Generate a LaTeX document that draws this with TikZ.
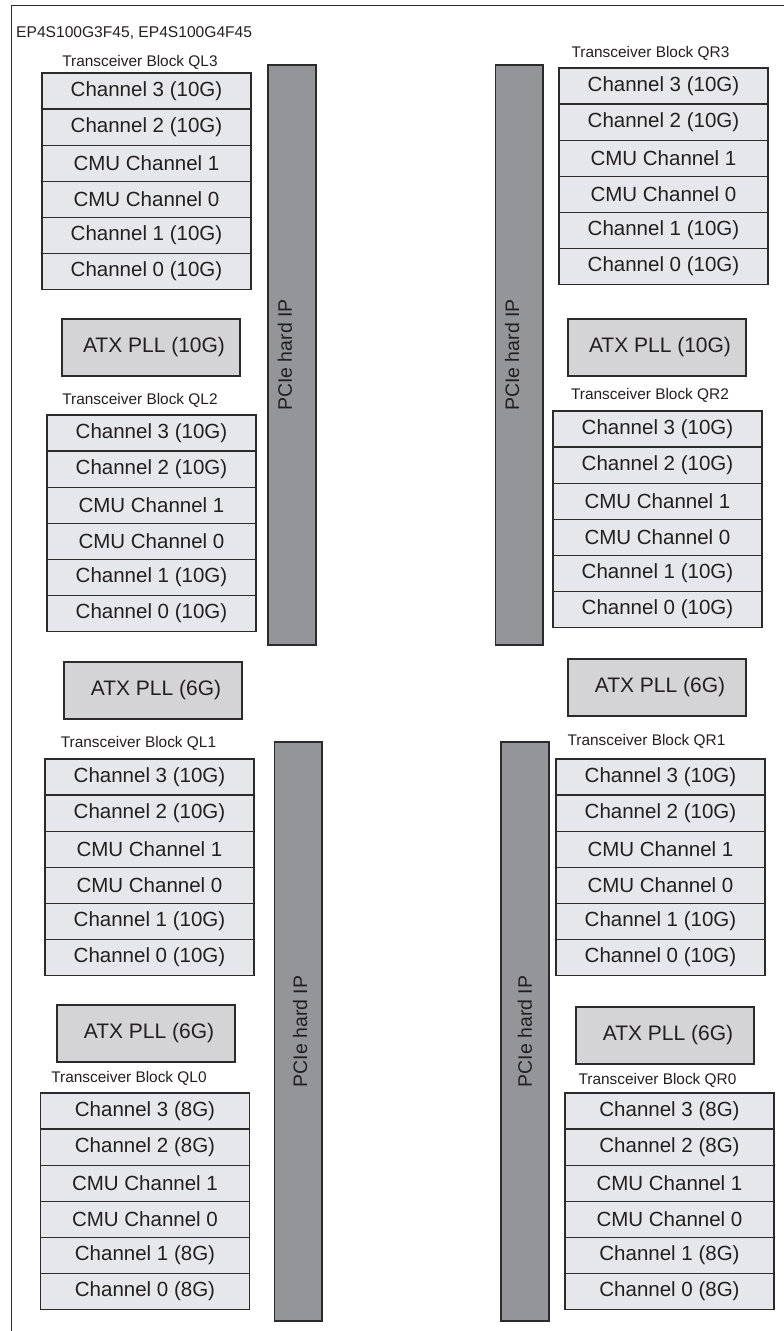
\documentclass[tikz,border=0pt]{standalone}
\usepackage{fontspec}
\setmainfont{Liberation Sans}
\definecolor{chanfill}{RGB}{230,231,235}
\definecolor{atxfill}{RGB}{212,212,214}
\definecolor{barfill}{RGB}{147,149,152}
\definecolor{linec}{RGB}{45,42,43}
\definecolor{txt}{RGB}{35,31,32}
\newcommand\chanfnt{\fontsize{20.5}{24}\selectfont}
\newcommand\atxfnt{\fontsize{21}{25}\selectfont}
\newcommand\lblfnt{\fontsize{15.4}{18}\selectfont}
\newcommand\barfnt{\fontsize{19.5}{24}\selectfont}
\newcommand\ttlfnt{\fontsize{15.6}{18}\selectfont}
\tikzset{
  chan/.style={draw=linec, fill=chanfill, line width=1.3pt, minimum width=209pt,
    minimum height=36.1pt, inner sep=0pt, outer sep=0pt, anchor=north west,
    font=\chanfnt, text=txt},
  atx/.style={draw=linec, fill=atxfill, line width=1.3pt, minimum width=178pt,
    minimum height=57pt, inner sep=0pt, outer sep=0pt, anchor=north west,
    font=\atxfnt, text=txt, execute at begin node={\hspace*{6pt}}},
  pcie/.style={draw=linec, fill=barfill, line width=1.3pt, inner sep=0pt,
    outer sep=0pt, anchor=north west},
  pcietext/.style={rotate=90, font=\barfnt, text=txt, inner sep=0pt},
  blabel/.style={font=\lblfnt, text=txt, inner sep=0pt},
}
% #1 name, #2 x, #3 y, #4 rate, #5 label x, #6 label y, #7 label
\newcommand\xcvrblock[7]{%
  \node[blabel] (#1-lbl) at (#5,#6) {#7};
  \node[chan] (#1-r1) at (#2,#3) {Channel 3 (#4)};
  \node[chan] (#1-r2) at (#1-r1.south west) {Channel 2 (#4)};
  \node[chan] (#1-r3) at (#1-r2.south west) {CMU Channel 1};
  \node[chan] (#1-r4) at (#1-r3.south west) {CMU Channel 0};
  \node[chan] (#1-r5) at (#1-r4.south west) {Channel 1 (#4)};
  \node[chan] (#1-r6) at (#1-r5.south west) {Channel 0 (#4)};
}
\begin{document}
\begin{tikzpicture}[x=1pt,y=-1pt]
\useasboundingbox (0,0) rectangle (784,1331);
\fill[white] (0,0) rectangle (784,1331);
\draw[line width=1.4pt, linec] (11.5,1331) -- (11.5,5.7) -- (784,5.7);

\node[anchor=west, font=\ttlfnt, text=txt, inner sep=0pt] (title) at (16,33) {EP4S100G3F45, EP4S100G4F45};

% PCIe hard IP bars
\node[pcie, minimum width=48pt, minimum height=580pt] (barL1) at (268,65) {};
\node[pcietext, yshift=7pt] (barL1t) at (barL1.center) {PCIe hard IP};
\node[pcie, minimum width=47.5pt, minimum height=580pt] (barR1) at (495.5,65) {};
\node[pcietext, yshift=7pt] (barR1t) at (barR1.center) {PCIe hard IP};
\node[pcie, minimum width=47.5pt, minimum height=579pt] (barL2) at (274.5,742) {};
\node[pcietext, yshift=-2pt] (barL2t) at (barL2.center) {PCIe hard IP};
\node[pcie, minimum width=48pt, minimum height=579pt] (barR2) at (501,742) {};
\node[pcietext] (barR2t) at (barR2.center) {PCIe hard IP};

% ATX PLLs
\node[atx] (atxL10) at (62,319) {ATX PLL (10G)};
\node[atx] (atxR10) at (568,319) {ATX PLL (10G)};
\node[atx] (atxL6a) at (64,662) {ATX PLL (6G)};
\node[atx] (atxR6a) at (568,659) {ATX PLL (6G)};
\node[atx] (atxL6b) at (57,1005) {ATX PLL (6G)};
\node[atx] (atxR6b) at (576,1007) {ATX PLL (6G)};

% Transceiver blocks
\xcvrblock{QL3}{42}{73}{10G}{140}{62}{Transceiver Block QL3}
\xcvrblock{QL2}{47}{415}{10G}{140}{400}{Transceiver Block QL2}
\xcvrblock{QL1}{45}{759}{10G}{138.5}{743}{Transceiver Block QL1}
\xcvrblock{QL0}{40.5}{1093}{8G}{129}{1078}{Transceiver Block QL0}
\xcvrblock{QR3}{559}{68}{10G}{650.5}{53}{Transceiver Block QR3}
\xcvrblock{QR2}{553}{411}{10G}{650}{395}{Transceiver Block QR2}
\xcvrblock{QR1}{556}{759}{10G}{646.5}{741}{Transceiver Block QR1}
\xcvrblock{QR0}{565}{1093}{8G}{657.5}{1080}{Transceiver Block QR0}
\end{tikzpicture}
\end{document}
